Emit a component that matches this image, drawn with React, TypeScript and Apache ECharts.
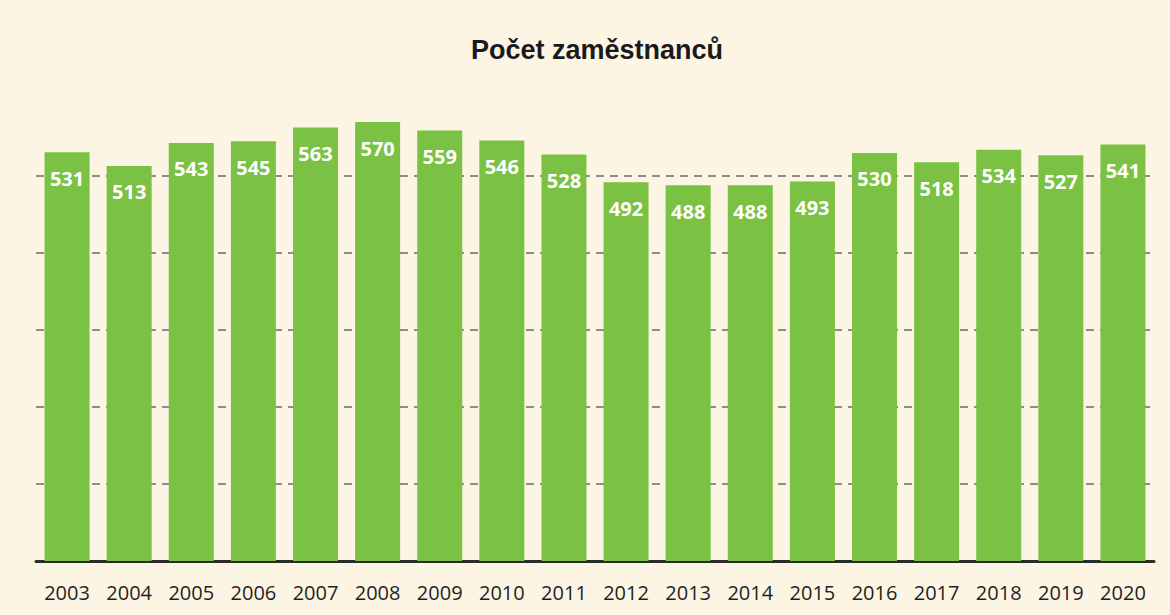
import React, { useEffect, useRef } from "react";
import * as echarts from "echarts";

const title = "Počet zaměstnanců";
const years = ["2003","2004","2005","2006","2007","2008","2009","2010","2011","2012","2013","2014","2015","2016","2017","2018","2019","2020"];
const employees = [531,513,543,545,563,570,559,546,528,492,488,488,493,530,518,534,527,541];

export default function App() {
  const ref = useRef<HTMLDivElement>(null);
  useEffect(() => {
    const chart = echarts.init(ref.current!, null, { renderer: "svg" });
    chart.setOption({
      animation: false,
      backgroundColor: "#fcf5e4",
      title: {
        text: title,
        left: 466,
        top: 31,
        textStyle: { fontFamily: "Liberation Sans", fontSize: 27, fontWeight: "bold", color: "#1a1a1a" },
      },
      grid: { left: 36, right: 16, top: 99, bottom: 54 },
      xAxis: {
        type: "category",
        data: years,
        axisLine: { lineStyle: { color: "#2b2b2b", width: 3 } },
        axisTick: { show: false },
        axisLabel: { fontFamily: "Open Sans", fontSize: 20, color: "#1f1f1f", margin: 21 },
      },
      yAxis: {
        type: "value",
        min: 0,
        max: 600,
        interval: 100,
        axisLine: { show: false },
        axisTick: { show: false },
        axisLabel: { show: false },
        splitLine: {
          show: true,
          lineStyle: {
            color: ["transparent", "#6b6b66", "#6b6b66", "#6b6b66", "#6b6b66", "#6b6b66", "transparent"],
            type: [8, 6],
            width: 1.5,
          },
        },
      },
      series: [
        {
          type: "bar",
          data: employees,
          barWidth: 45,
          itemStyle: { color: "#7bc143" },
          label: {
            show: true,
            position: "insideTop",
            distance: 16,
            color: "#ffffff",
            fontFamily: "Open Sans",
            fontWeight: "bold",
            fontSize: 20,
          },
        },
      ],
    });
    return () => chart.dispose();
  }, []);
  return (
    <div
      ref={ref}
      style={{ position: "fixed", left: 0, top: 0, width: 1170, height: 615 }}
    />
  );
}
